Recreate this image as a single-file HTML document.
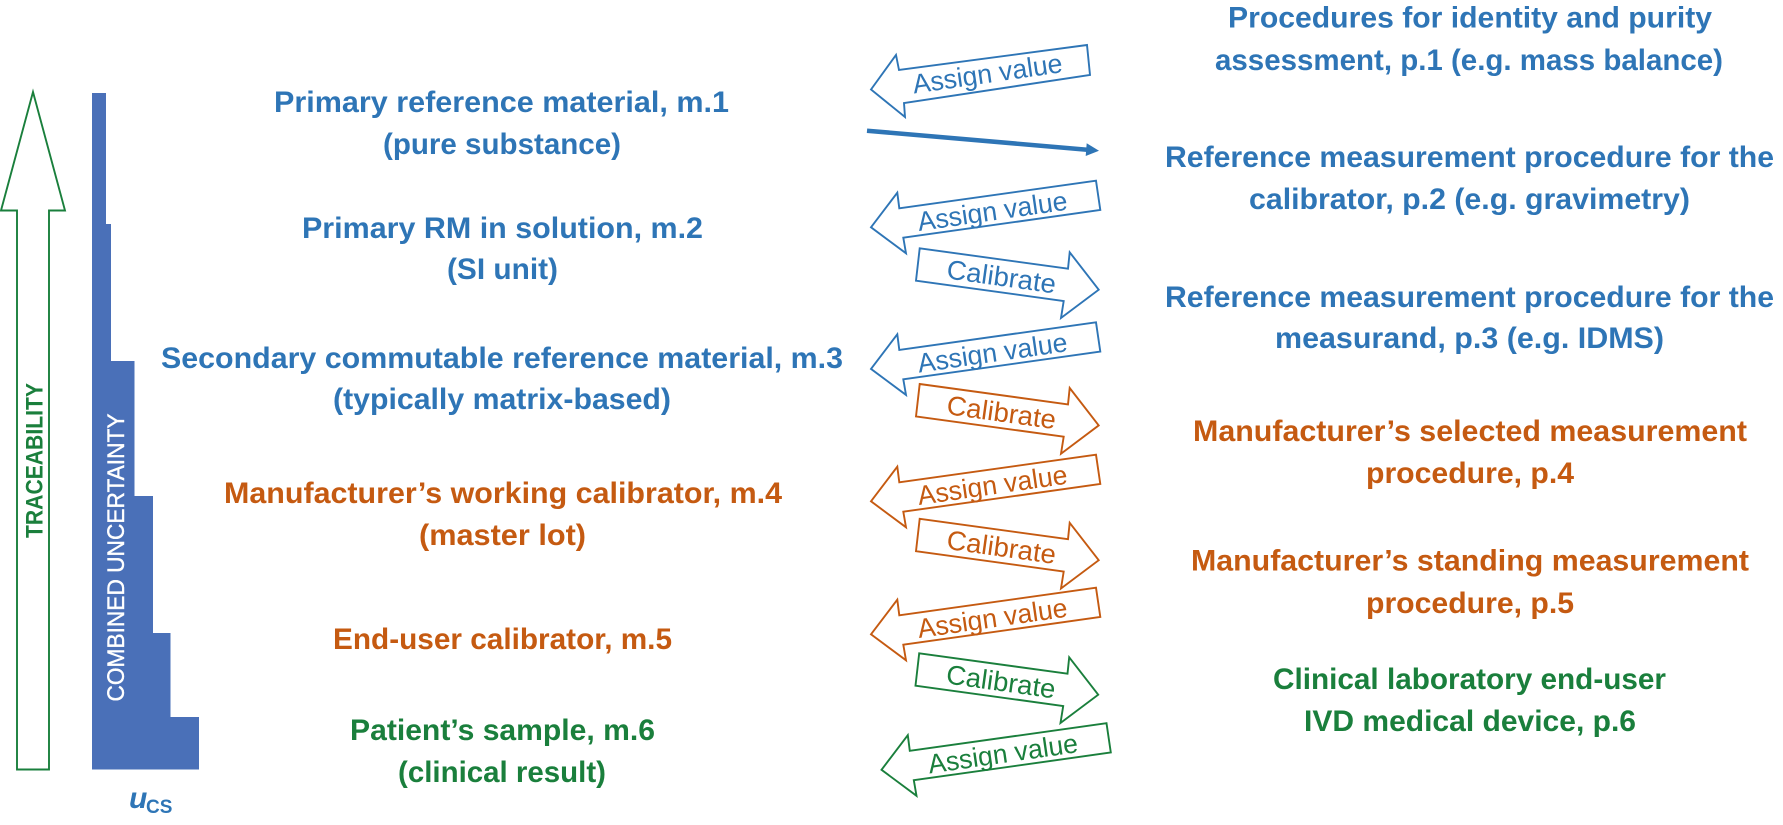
<!DOCTYPE html>
<html><head><meta charset="utf-8"><style>
html,body{margin:0;padding:0;background:#fff}
svg{display:block}
.b{font-family:"Liberation Sans",sans-serif;font-weight:700;font-size:30px;fill:#2e75b6}
.o{fill:#c55a11}.g{fill:#1a7f3c}
.a{font-family:"Liberation Sans",sans-serif;font-size:27px}
.s{fill:#fff;stroke-width:1.9}
</style></head><body>
<svg width="1783" height="825" viewBox="0 0 1783 825" xmlns="http://www.w3.org/2000/svg">
<polygon class="s" stroke="#1a7f3c" points="33,92 1,210.5 17,210.5 17,769.5 49,769.5 49,210.5 65,210.5"/>
<polygon fill="#4a70b8" points="92,93 106,93 106,224 111,224 111,361 134.5,361 134.5,496 153,496 153,633 170.5,633 170.5,717 199,717 199,769.5 92,769.5"/>
<text transform="translate(42.7,538) rotate(-90)" font-family="Liberation Sans" font-weight="700" font-size="24.5" fill="#1a7f3c" textLength="155" lengthAdjust="spacingAndGlyphs">TRACEABILITY</text>
<text transform="translate(124,701.5) rotate(-90)" font-family="Liberation Sans" font-size="24.5" fill="#fff" stroke="#fff" stroke-width=".4" textLength="288" lengthAdjust="spacingAndGlyphs">COMBINED UNCERTAINTY</text>
<text x="129" y="808" font-family="Liberation Sans" font-weight="700" font-style="italic" font-size="30" fill="#2e75b6">u</text>
<text x="146" y="813" font-family="Liberation Sans" font-weight="700" font-size="19" fill="#2e75b6">CS</text>

<g class="b">
<text class="b" x="274" y="112" textLength="455" lengthAdjust="spacingAndGlyphs">Primary reference material, m.1</text>
<text class="b" x="383" y="154" textLength="238" lengthAdjust="spacingAndGlyphs">(pure substance)</text>
<text class="b" x="302" y="238" textLength="401" lengthAdjust="spacingAndGlyphs">Primary RM in solution, m.2</text>
<text class="b" x="447" y="279" textLength="111" lengthAdjust="spacingAndGlyphs">(SI unit)</text>
<text class="b" x="161" y="368" textLength="682" lengthAdjust="spacingAndGlyphs">Secondary commutable reference material, m.3</text>
<text class="b" x="333" y="409" textLength="338" lengthAdjust="spacingAndGlyphs">(typically matrix-based)</text>
<text class="b o" x="224" y="503" textLength="558" lengthAdjust="spacingAndGlyphs">Manufacturer’s working calibrator, m.4</text>
<text class="b o" x="419" y="545" textLength="167" lengthAdjust="spacingAndGlyphs">(master lot)</text>
<text class="b o" x="333" y="649" textLength="339" lengthAdjust="spacingAndGlyphs">End-user calibrator, m.5</text>
<text class="b g" x="350" y="740" textLength="305" lengthAdjust="spacingAndGlyphs">Patient’s sample, m.6</text>
<text class="b g" x="398" y="782" textLength="208" lengthAdjust="spacingAndGlyphs">(clinical result)</text>

<text class="b" x="1228" y="27.5" textLength="484" lengthAdjust="spacingAndGlyphs">Procedures for identity and purity</text>
<text class="b" x="1215" y="70" textLength="508" lengthAdjust="spacingAndGlyphs">assessment, p.1 (e.g. mass balance)</text>
<text class="b" x="1165" y="167" textLength="609" lengthAdjust="spacingAndGlyphs">Reference measurement procedure for the</text>
<text class="b" x="1249" y="209" textLength="441" lengthAdjust="spacingAndGlyphs">calibrator, p.2 (e.g. gravimetry)</text>
<text class="b" x="1165" y="307" textLength="609" lengthAdjust="spacingAndGlyphs">Reference measurement procedure for the</text>
<text class="b" x="1275" y="348" textLength="389" lengthAdjust="spacingAndGlyphs">measurand, p.3 (e.g. IDMS)</text>
<text class="b o" x="1193" y="441" textLength="554" lengthAdjust="spacingAndGlyphs">Manufacturer’s selected measurement</text>
<text class="b o" x="1366" y="483" textLength="208" lengthAdjust="spacingAndGlyphs">procedure, p.4</text>
<text class="b o" x="1191" y="570.5" textLength="558" lengthAdjust="spacingAndGlyphs">Manufacturer’s standing measurement</text>
<text class="b o" x="1366" y="613" textLength="208" lengthAdjust="spacingAndGlyphs">procedure, p.5</text>
<text class="b g" x="1273" y="689" textLength="393" lengthAdjust="spacingAndGlyphs">Clinical laboratory end-user</text>
<text class="b g" x="1304" y="731" textLength="332" lengthAdjust="spacingAndGlyphs">IVD medical device, p.6</text>
</g>

<!-- Assign value 1 -->
<polygon class="s" stroke="#2e75b6" points="871,89.5 896,55 899,70 1087,45 1090,75 904,103 905,117"/>
<text transform="translate(914,93.5) rotate(-8.2)" class="a" fill="#2e75b6" textLength="151" lengthAdjust="spacingAndGlyphs">Assign value</text>
<!-- Bold line -->
<line x1="867" y1="130.7" x2="1090" y2="150" stroke="#2e75b6" stroke-width="4.5"/>
<polygon fill="#2e75b6" points="1099,150.7 1086.7,143.3 1085.7,156"/>

<!-- Assign value 2-6 -->
<g>
<polygon class="s" stroke="#2e75b6" points="871,227.3 897.3,192.7 899.3,208.3 1096,180.7 1100.3,210 903.3,237.7 906,253.3"/>
<text transform="translate(919,231) rotate(-8.2)" class="a" fill="#2e75b6" textLength="151" lengthAdjust="spacingAndGlyphs">Assign value</text>
</g>
<g transform="translate(0,141.6)">
<polygon class="s" stroke="#2e75b6" points="871,227.3 897.3,192.7 899.3,208.3 1096,180.7 1100.3,210 903.3,237.7 906,253.3"/>
<text transform="translate(919,231) rotate(-8.2)" class="a" fill="#2e75b6" textLength="151" lengthAdjust="spacingAndGlyphs">Assign value</text>
</g>
<g transform="translate(0,274)">
<polygon class="s" stroke="#c55a11" points="871,227.3 897.3,192.7 899.3,208.3 1096,180.7 1100.3,210 903.3,237.7 906,253.3"/>
<text transform="translate(919,231) rotate(-8.2)" class="a" fill="#c55a11" textLength="151" lengthAdjust="spacingAndGlyphs">Assign value</text>
</g>
<g transform="translate(0,407)">
<polygon class="s" stroke="#c55a11" points="871,227.3 897.3,192.7 899.3,208.3 1096,180.7 1100.3,210 903.3,237.7 906,253.3"/>
<text transform="translate(919,231) rotate(-8.2)" class="a" fill="#c55a11" textLength="151" lengthAdjust="spacingAndGlyphs">Assign value</text>
</g>
<g transform="translate(10.5,542.5)">
<polygon class="s" stroke="#1a7f3c" points="871,227.3 897.3,192.7 899.3,208.3 1096,180.7 1100.3,210 903.3,237.7 906,253.3"/>
<text transform="translate(919,231) rotate(-8.2)" class="a" fill="#1a7f3c" textLength="151" lengthAdjust="spacingAndGlyphs">Assign value</text>
</g>

<!-- Calibrate -->
<g>
<polygon class="s" stroke="#2e75b6" points="919.7,248.3 1068,268.7 1069.7,252.3 1098.7,289.7 1061,318 1063.7,301 916,280.7"/>
<text transform="translate(945.7,278.3) rotate(7.9)" class="a" fill="#2e75b6" textLength="110" lengthAdjust="spacingAndGlyphs">Calibrate</text>
</g>
<g transform="translate(0,135.7)">
<polygon class="s" stroke="#c55a11" points="919.7,248.3 1068,268.7 1069.7,252.3 1098.7,289.7 1061,318 1063.7,301 916,280.7"/>
<text transform="translate(945.7,278.3) rotate(7.9)" class="a" fill="#c55a11" textLength="110" lengthAdjust="spacingAndGlyphs">Calibrate</text>
</g>
<g transform="translate(0,270.5)">
<polygon class="s" stroke="#c55a11" points="919.7,248.3 1068,268.7 1069.7,252.3 1098.7,289.7 1061,318 1063.7,301 916,280.7"/>
<text transform="translate(945.7,278.3) rotate(7.9)" class="a" fill="#c55a11" textLength="110" lengthAdjust="spacingAndGlyphs">Calibrate</text>
</g>
<g transform="translate(-0.5,405)">
<polygon class="s" stroke="#1a7f3c" points="919.7,248.3 1068,268.7 1069.7,252.3 1098.7,289.7 1061,318 1063.7,301 916,280.7"/>
<text transform="translate(945.7,278.3) rotate(7.9)" class="a" fill="#1a7f3c" textLength="110" lengthAdjust="spacingAndGlyphs">Calibrate</text>
</g>
</svg>
</body></html>
